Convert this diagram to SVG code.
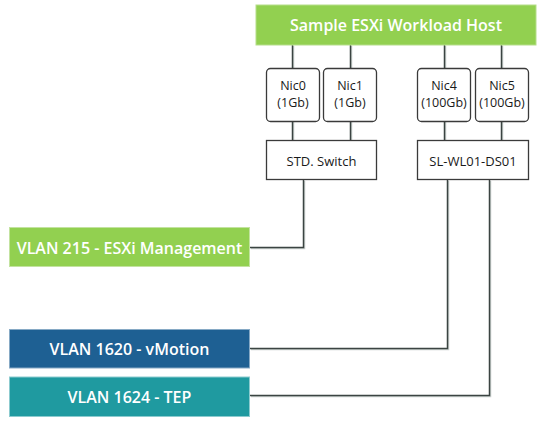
<svg xmlns="http://www.w3.org/2000/svg" width="543" height="429" viewBox="0 0 543 429">
<style>
  .lbl { font-family: "Open Sans", "DejaVu Sans", sans-serif; fill: #ffffff; font-weight: 600; text-anchor: middle; font-size: 16px; }
  .dark { font-family: "Open Sans", "DejaVu Sans", sans-serif; fill: #1a1a1a; text-anchor: middle; font-size: 12.5px; }
  .sw-t { font-family: "Open Sans", "DejaVu Sans", sans-serif; fill: #1a1a1a; text-anchor: middle; font-size: 13px; }
  .nic { fill: #ffffff; stroke: #3a3a3a; stroke-width: 1.3; }
  .sw { fill: #ffffff; stroke: #3a3a3a; stroke-width: 1.3; }
  .wire { fill: none; stroke: #3b4442; stroke-width: 1.5; }
  .shadow { fill: none; stroke: #c9cfcd; stroke-width: 1.5; }
</style>
<rect width="543" height="429" fill="#ffffff"/>
<g id="connectors">
  <g transform="translate(1,1)">
    <path class="shadow" d="M292.5 45V68M350.5 45V68M444.5 45V68M501.5 45V68"/>
    <path class="shadow" d="M292.5 121V140M350.5 121V140M444.5 121V140M501.5 121V140"/>
    <path class="shadow" d="M303.5 180V247.5H250"/>
    <path class="shadow" d="M447.5 180V348.5H250"/>
    <path class="shadow" d="M489.5 180V395.5H250"/>
  </g>
  <path class="wire" d="M292.5 45V68M350.5 45V68M444.5 45V68M501.5 45V68"/>
  <path class="wire" d="M292.5 121V140M350.5 121V140M444.5 121V140M501.5 121V140"/>
  <path class="wire" d="M303.5 180V247.5H250"/>
  <path class="wire" d="M447.5 180V348.5H250"/>
  <path class="wire" d="M489.5 180V395.5H250"/>
</g>
<g id="host">
  <rect x="256" y="5" width="280" height="40" fill="#92d050" stroke="#b5de8a" stroke-width="1"/>
  <text class="lbl" x="396" y="31">Sample ESXi Workload Host</text>
</g>
<g id="nic0">
  <rect class="nic" x="266.5" y="68.5" width="53" height="53" rx="4"/>
  <text class="dark" x="293" y="90">Nic0</text>
  <text class="dark" x="293" y="107.3">(1Gb)</text>
</g>
<g id="nic1">
  <rect class="nic" x="323.5" y="68.5" width="53" height="53" rx="4"/>
  <text class="dark" x="350" y="90">Nic1</text>
  <text class="dark" x="350" y="107.3">(1Gb)</text>
</g>
<g id="nic4">
  <rect class="nic" x="417.5" y="68.5" width="53" height="53" rx="4"/>
  <text class="dark" x="444" y="90">Nic4</text>
  <text class="dark" x="444" y="107.3">(100Gb)</text>
</g>
<g id="nic5">
  <rect class="nic" x="475.5" y="68.5" width="53" height="53" rx="4"/>
  <text class="dark" x="502" y="90">Nic5</text>
  <text class="dark" x="502" y="107.3">(100Gb)</text>
</g>
<g id="std-switch">
  <rect class="sw" x="266.5" y="140.5" width="110" height="39"/>
  <text class="sw-t" x="321.5" y="166">STD. Switch</text>
</g>
<g id="ds01">
  <rect class="sw" x="417.5" y="140.5" width="111" height="39"/>
  <text class="sw-t" x="473" y="166">SL-WL01-DS01</text>
</g>
<g id="vlan215">
  <rect x="9.5" y="227.5" width="240" height="39" fill="#92d050" stroke="#c3e3a0" stroke-width="1"/>
  <text class="lbl" x="129.5" y="254">VLAN 215 - ESXi Management</text>
</g>
<g id="vlan1620">
  <rect x="9.5" y="329.5" width="240" height="38.5" fill="#1e6093" stroke="#86a9c5" stroke-width="1"/>
  <text class="lbl" x="129.5" y="355">VLAN 1620 - vMotion</text>
</g>
<g id="vlan1624">
  <rect x="9.5" y="377" width="240" height="39.5" fill="#1f9aa0" stroke="#8ccbcf" stroke-width="1"/>
  <text class="lbl" x="129.5" y="402.5">VLAN 1624 - TEP</text>
</g>
</svg>
